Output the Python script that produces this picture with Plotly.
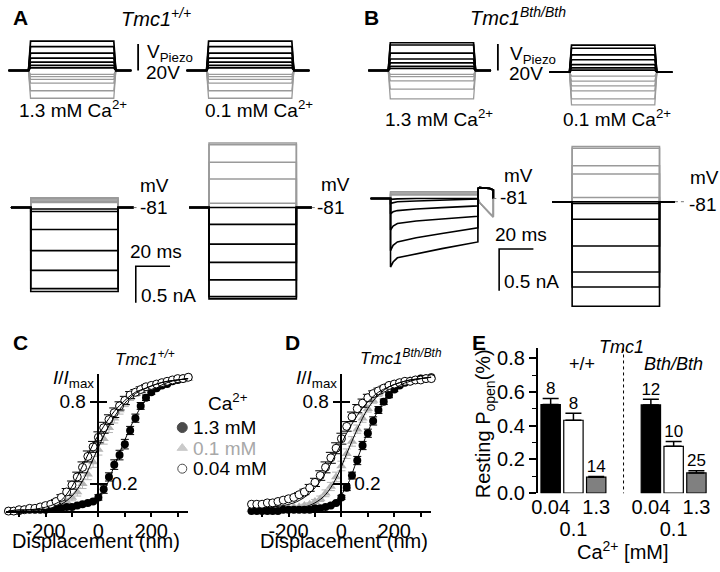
import plotly.graph_objects as go

W, H = 720, 572
FONT = "Liberation Sans, Arial, Helvetica, sans-serif"
GRAY = "#9a9a9a"

# ---------------- data ----------------
# timing of the mechanical step (ms)
T_PRE, T_ON, T_OFF, T_END, RAMP = -11.6, 0.0, 51.0, 60.0, 1.2
SCALE_T, SCALE_I, SCALE_V = 20, 0.5, 20   # scale bars: ms, nA, V

# piezo stimulus amplitudes (V)
stim_A_black = [22.2, 18.0, 13.1, 9.4, 6.4, 3.9, 2.0]
stim_A_gray = [-3.0, -4.7, -6.7, -9.6, -15.3, -21.0]
stim_B13_black = [21.0, 19.3, 13.1, 8.7, 5.7, 3.2, 1.5]
stim_B13_gray = [-3.0, -4.7, -7.9, -14.1, -21.5]
stim_B01_black = [20.5, 18.1, 13.1, 9.4, 5.7, 3.3, 1.5]
stim_B01_gray = [-3.0, -6.7, -10.4, -14.1, -20.2, -24.7]

# transducer currents (nA) during the step
cur_A13_black = [-0.02, -0.054, -0.30, -0.59, -0.86, -1.11, -1.15]
cur_A13_gray = [0.071, 0.085, 0.103, 0.12, 0.134]
cur_A01_black = [-0.01, -0.23, -0.50, -0.75, -0.99, -1.22, -1.25]
cur_A01_gray = [0.058, 0.39, 0.62, 0.86, 0.885]
adapt_t = [0, 1.5, 4, 15, 30, 51]
cur_B13_black = [
    [-0.01, -0.01, -0.005, 0.0, 0.0, 0.0],
    [-0.059, -0.05, -0.04, -0.03, -0.02, -0.007],
    [-0.183, -0.16, -0.145, -0.125, -0.11, -0.089],
    [-0.378, -0.33, -0.30, -0.27, -0.245, -0.214],
    [-0.624, -0.56, -0.52, -0.47, -0.42, -0.351],
    [-0.82, -0.76, -0.71, -0.66, -0.60, -0.52],
]
cur_B13_gray = [0.04, 0.05, 0.065, 0.08]
cur_B01_black = [0.0, -0.02, -0.21, -0.53, -0.84, -1.02, -1.25]
cur_B01_gray = [0.05, 0.33, 0.43, 0.64, 0.66]
# off-step tails (ms, nA)
tail_t = [51, 52, 58, 60]
tail_B13_black = [0.12, 0.13, 0.12, 0.10]
tail_B13_gray = [0.0, -0.05, -0.18, -0.22]

# displacement-response relations (nm, I/Imax)
disp = [-340, -320, -300, -280, -260, -240, -220, -200, -180, -160, -140, -120,
        -100, -80, -60, -40, -20, 0, 20, 40, 60, 80, 100, 120, 140, 160, 180,
        200, 220, 240, 260, 280, 300, 320, 340]
C_13 = [0.00, 0.00, 0.00, 0.01, 0.01, 0.01, 0.01, 0.01, 0.02, 0.02, 0.02, 0.03,
        0.03, 0.04, 0.05, 0.06, 0.07, 0.10, 0.16, 0.25, 0.34, 0.41, 0.49, 0.59,
        0.68, 0.77, 0.83, 0.87, 0.90, 0.92, 0.93, 0.95, 0.96, 0.97, 0.98]
C_13_err = [0.005] * 16 + [0.01, 0.02, 0.03, 0.03, 0.035, 0.035, 0.035, 0.03, 0.03,
                           0.025, 0.02, 0.015, 0.01, 0.01, 0.008, 0.006, 0.005, 0.005, 0.005]
C_01 = [0.00, 0.00, 0.00, 0.01, 0.01, 0.01, 0.02, 0.02, 0.03, 0.04, 0.05, 0.07,
        0.10, 0.14, 0.20, 0.27, 0.36, 0.45, 0.53, 0.61, 0.68, 0.74, 0.79, 0.83,
        0.86, 0.88, 0.90, 0.91, 0.92, 0.93, 0.94, 0.95, 0.96, 0.96, 0.97]
C_01_err = [0.005] * 8 + [0.01, 0.01, 0.015, 0.02, 0.025, 0.03, 0.035, 0.04, 0.04, 0.04,
                          0.04, 0.035, 0.035, 0.03, 0.025, 0.02, 0.02, 0.015, 0.01, 0.01,
                          0.01, 0.008, 0.006, 0.005, 0.005, 0.005, 0.005]
C_004 = [0.00, 0.00, 0.01, 0.01, 0.02, 0.02, 0.03, 0.04, 0.05, 0.07, 0.10, 0.14,
         0.19, 0.25, 0.32, 0.40, 0.47, 0.54, 0.61, 0.67, 0.72, 0.77, 0.81, 0.85,
         0.87, 0.89, 0.91, 0.92, 0.93, 0.94, 0.95, 0.96, 0.97, 0.97, 0.98]
C_004_err = [0.005] * 8 + [0.01, 0.015, 0.02, 0.025, 0.03, 0.035, 0.04, 0.04, 0.04, 0.04,
                           0.04, 0.035, 0.035, 0.03, 0.03, 0.025, 0.02, 0.02, 0.015, 0.01,
                           0.01, 0.008, 0.006, 0.005, 0.005, 0.005, 0.005]
D_13 = [0.00, 0.00, 0.00, 0.00, 0.00, 0.00, 0.01, 0.01, 0.01, 0.01, 0.01, 0.01,
        0.02, 0.02, 0.03, 0.04, 0.06, 0.10, 0.17, 0.26, 0.37, 0.48, 0.57, 0.66,
        0.74, 0.80, 0.85, 0.89, 0.92, 0.94, 0.95, 0.96, 0.97, 0.97, 0.98]
D_13_err = [0.005] * 16 + [0.01, 0.015, 0.02, 0.025, 0.03, 0.03, 0.03, 0.03, 0.025,
                           0.02, 0.02, 0.015, 0.01, 0.01, 0.008, 0.006, 0.005, 0.005, 0.005]
D_01 = [0.01, 0.01, 0.01, 0.01, 0.01, 0.02, 0.02, 0.02, 0.03, 0.03, 0.04, 0.05,
        0.07, 0.09, 0.13, 0.18, 0.25, 0.33, 0.42, 0.51, 0.60, 0.68, 0.75, 0.81,
        0.86, 0.89, 0.91, 0.93, 0.94, 0.95, 0.96, 0.96, 0.97, 0.97, 0.98]
D_01_err = [0.005] * 10 + [0.01, 0.01, 0.015, 0.02, 0.025, 0.03, 0.035, 0.035, 0.035, 0.035,
                           0.03, 0.03, 0.025, 0.02, 0.02, 0.015, 0.01, 0.01, 0.008, 0.006,
                           0.005, 0.005, 0.005, 0.005, 0.005]
D_004 = [0.05, 0.05, 0.05, 0.06, 0.06, 0.07, 0.08, 0.09, 0.10, 0.12, 0.14, 0.17,
         0.21, 0.26, 0.32, 0.39, 0.46, 0.53, 0.62, 0.69, 0.75, 0.79, 0.83, 0.86,
         0.88, 0.90, 0.92, 0.93, 0.94, 0.95, 0.95, 0.96, 0.96, 0.97, 0.97]
D_004_err = [0.005] * 8 + [0.01, 0.015, 0.02, 0.025, 0.03, 0.035, 0.04, 0.04, 0.04, 0.04,
                           0.035, 0.035, 0.03, 0.03, 0.025, 0.02, 0.02, 0.015, 0.01, 0.01,
                           0.01, 0.008, 0.006, 0.005, 0.005, 0.005, 0.005]
# fitted curves
fit_x = [-340, -300, -260, -220, -180, -140, -100, -60, -20, 20, 60, 100, 140, 180,
         220, 260, 300, 340]
fitC_13 = [0.00, 0.00, 0.00, 0.01, 0.01, 0.02, 0.03, 0.05, 0.08, 0.15, 0.33, 0.52,
           0.69, 0.82, 0.90, 0.94, 0.96, 0.97]
fitC_01 = [0.00, 0.00, 0.01, 0.01, 0.02, 0.05, 0.11, 0.22, 0.38, 0.55, 0.69, 0.79,
           0.86, 0.90, 0.93, 0.95, 0.96, 0.97]
fitC_004 = [0.00, 0.01, 0.01, 0.02, 0.04, 0.08, 0.18, 0.33, 0.49, 0.62, 0.73, 0.81,
            0.87, 0.90, 0.93, 0.95, 0.96, 0.97]
fitD_13 = [0.00, 0.00, 0.00, 0.01, 0.01, 0.01, 0.02, 0.04, 0.08, 0.18, 0.38, 0.58,
           0.74, 0.85, 0.92, 0.95, 0.97, 0.98]
fitD_01 = [0.00, 0.00, 0.01, 0.01, 0.02, 0.03, 0.06, 0.12, 0.24, 0.42, 0.60, 0.75,
           0.85, 0.91, 0.94, 0.96, 0.97, 0.98]
fitD_004 = [0.01, 0.02, 0.03, 0.04, 0.06, 0.10, 0.17, 0.28, 0.42, 0.57, 0.70, 0.80,
            0.87, 0.91, 0.94, 0.96, 0.97, 0.98]
legend_names = ["1.3 mM", "0.1 mM", "0.04 mM"]

# resting open probability
ca_labels = ["0.04", "0.1", "1.3"]
genotypes = ["+/+", "Bth/Bth"]
popen = [0.526, 0.433, 0.095, 0.524, 0.278, 0.120]
popen_err = [0.036, 0.042, 0.004, 0.034, 0.029, 0.013]
n_cells = [8, 8, 14, 12, 10, 25]

# ---------------- helpers ----------------
fig = go.Figure()
axes = {}
counter = [0]


def make_axes(x0px, xppu, xr, y0px, yppu, yr, xkw=None, ykw=None):
    """axis pair whose data value 0 sits at pixel (x0px, y0px)"""
    counter[0] += 1
    i = counter[0]
    s = "" if i == 1 else str(i)
    xd = [max(0, (x0px + xr[0] * xppu) / W), min(1, (x0px + xr[1] * xppu) / W)]
    yd = [max(0, 1 - (y0px - yr[0] * yppu) / H), min(1, 1 - (y0px - yr[1] * yppu) / H)]
    xa = dict(domain=xd, range=xr, anchor="y" + s, visible=False, showgrid=False,
              zeroline=False)
    ya = dict(domain=yd, range=yr, anchor="x" + s, visible=False, showgrid=False,
              zeroline=False)
    if xkw:
        xa.update(xkw)
    if ykw:
        ya.update(ykw)
    axes["xaxis" + s] = xa
    axes["yaxis" + s] = ya
    return "x" + s, "y" + s


def line(xs, ys, xa, ya, color="black", width=1.3, dash=None):
    fig.add_trace(go.Scatter(x=xs, y=ys, xaxis=xa, yaxis=ya, mode="lines",
                             line=dict(color=color, width=width, dash=dash),
                             hoverinfo="skip", showlegend=False))


def stim_xy(levels):
    xs, ys = [], []
    for v in levels:
        xs += [T_PRE, T_ON, T_ON + RAMP, T_OFF - RAMP, T_OFF, T_END, None]
        ys += [0, 0, v, v, 0, 0, None]
    return xs, ys


def step_xy(levels, tail=None):
    xs, ys = [], []
    for v in levels:
        if isinstance(v, list):
            during_t, during_v = adapt_t, v
        else:
            during_t, during_v = [T_ON, T_OFF], [v, v]
        xs += [T_PRE, T_ON] + during_t
        ys += [0, 0] + during_v
        if tail is None:
            xs += [T_OFF, T_END]
            ys += [0, 0]
        else:
            xs += tail_t + [T_END]
            ys += tail + [0]
        xs.append(None)
        ys.append(None)
    return xs, ys


annotations = []


def ann(text, xpx, ypx, size=19, xanchor="center", color="black", **kw):
    annotations.append(dict(text=text, x=xpx / W, y=1 - ypx / H, xref="paper",
                            yref="paper", showarrow=False, xanchor=xanchor,
                            yanchor="middle", font=dict(size=size, color=color,
                                                        family=FONT), **kw))


PX_MS = 1.73

# ---------------- panels A / B : stimuli ----------------
def stim_panel(x0, y0, blacks, grays, bar=False):
    xa, ya = make_axes(x0, PX_MS, [-13, 80], y0, 1.35, [-28, 28])
    gx, gy = stim_xy(grays)
    line(gx, gy, xa, ya, color=GRAY, width=1.3)
    bx, by = stim_xy(blacks)
    line(bx, by, xa, ya, color="black", width=1.7)
    if bar:
        bt = 64.0
        line([bt, bt], [0, SCALE_V], xa, ya, width=1.8)


stim_panel(22.7, 71, stim_A_black, stim_A_gray, bar=True)
stim_panel(202.5, 71, stim_A_black, stim_A_gray)
stim_panel(386, 71, stim_B13_black, stim_B13_gray, bar=True)
stim_panel(569, 72.7, stim_B01_black, stim_B01_gray)


# ---------------- panels A / B : currents ----------------
def current_panel(x0, y0, ppu, xr, yr, blacks, grays, tail_b=None, tail_g=None,
                  dash_to=None, bar=None):
    xa, ya = make_axes(x0, PX_MS, xr, y0, ppu, yr)
    gx, gy = step_xy(grays, tail_g)
    line(gx, gy, xa, ya, color=GRAY, width=1.5)
    bx, by = step_xy(blacks, tail_b)
    line(bx, by, xa, ya, color="black", width=1.6)
    if dash_to:
        line([T_END, dash_to], [0, 0], xa, ya, color="#777777", width=1, dash="dot")
    if bar:
        bt, bi = bar
        line([bt + SCALE_T, bt, bt], [bi, bi, bi - SCALE_I], xa, ya, width=1.6)


current_panel(25, 211, 74.6, [-14, 90], [-1.5, 1.0], cur_A13_black, cur_A13_gray,
              dash_to=63.0, bar=(61.3, -0.804))
current_panel(205, 211, 74.6, [-14, 80], [-1.4, 1.1], cur_A01_black, cur_A01_gray,
              dash_to=62.0)
current_panel(388.3, 201.7, 85.4, [-14, 90], [-1.2, 0.6], cur_B13_black, cur_B13_gray,
              tail_b=tail_B13_black, tail_g=tail_B13_gray, dash_to=63.5,
              bar=(63.4, -0.604))
current_panel(571.7, 205, 85.4, [-14, 80], [-1.4, 0.9], cur_B01_black, cur_B01_gray,
              dash_to=67.0)

# ---------------- panels C / D ----------------
NM_PX, I_PX = 0.267, 139.5
tick_font = dict(size=20, family=FONT, color="black")


def dummy(xa, ya):
    fig.add_trace(go.Scatter(x=[None], y=[None], xaxis=xa, yaxis=ya, mode="markers",
                             showlegend=False, hoverinfo="skip"))


def iv_panel(x0, y0, s13, e13, s01, e01, s004, e004, f13, f01, f004, legend=False):
    xkw = dict(visible=True, showline=True, linewidth=1.5, linecolor="black",
               ticks="outside", ticklen=4, tickwidth=1.5, tickcolor="black",
               tickvals=[-300, -200, -100, 0, 100, 200, 300],
               ticktext=["", "-200", "", "0", "", "200", ""], tickfont=tick_font,
               tickangle=0, ticklabelstandoff=-3)
    pos = x0 / W
    ykw = dict(visible=True, showline=True, linewidth=1.5, linecolor="black",
               anchor="free", position=pos, ticks="outside", ticklen=8, tickwidth=1.5,
               tickcolor="black", tickvals=[0.2, 0.8], ticktext=["", "0.8"],
               tickfont=dict(size=19, family=FONT, color="black"))
    xa, ya = make_axes(x0, NM_PX, [-349, 340], y0, I_PX, [0, 1.0], xkw, ykw)
    # right-hand ticks of the same axis
    counter[0] += 1
    s2 = str(counter[0])
    axes["yaxis" + s2] = dict(overlaying=ya, side="right", anchor="free", position=pos,
                              range=[0, 1.0], showline=False, showgrid=False,
                              zeroline=False, ticks="outside", ticklen=8, tickwidth=1.5,
                              tickcolor="black", tickvals=[0.2, 0.8],
                              ticktext=["0.2", ""],
                              tickfont=dict(size=19, family=FONT, color="black"))
    dummy(xa, "y" + s2)
    common = dict(xaxis=xa, yaxis=ya, mode="markers", cliponaxis=False,
                  hoverinfo="skip", showlegend=False)
    fig.add_trace(go.Scatter(x=disp, y=s01, marker=dict(symbol="triangle-up", size=9,
                                                          color="#b5b5b5"),
                             error_y=dict(type="data", array=e01, color="#b5b5b5",
                                          thickness=1, width=4), **common))
    fig.add_trace(go.Scatter(x=disp, y=s13, marker=dict(symbol="circle", size=8,
                                                          color="black"),
                             error_y=dict(type="data", array=e13, color="black",
                                          thickness=1, width=4), **common))
    fig.add_trace(go.Scatter(x=disp, y=s004, marker=dict(symbol="circle", size=8,
                                                           color="white",
                                                           line=dict(color="black",
                                                                     width=1)),
                             error_y=dict(type="data", array=e004, color="black",
                                          thickness=1, width=5), **common))
    for f in (f13, f01, f004):
        fig.add_trace(go.Scatter(x=fit_x, y=f, xaxis=xa, yaxis=ya, mode="lines",
                                 line=dict(color="black", width=1, shape="spline"),
                                 hoverinfo="skip", showlegend=False))
    if legend:
        lx = (178 - x0) / NM_PX
        ly = [(y0 - p) / I_PX for p in (435.7, 456.7, 477.7)]
        fig.add_trace(go.Scatter(x=[lx] * 3, y=ly, xaxis=xa, yaxis=ya, mode="markers",
                                 cliponaxis=False, hoverinfo="skip", showlegend=False,
                                 marker=dict(symbol=["circle", "triangle-up", "circle"],
                                             size=[10, 9, 9],
                                             color=["black", "#b5b5b5", "white"],
                                             line=dict(color=["black", "#b5b5b5",
                                                              "black"], width=1))))
        ann("Ca<sup>2+</sup>", 224, 410, 19)
        for name, p, col in zip(legend_names, (435.7, 456.7, 477.7),
                                ("black", "#a8a8a8", "black")):
            ann(name, 187, p, 19, xanchor="left", color=col)


iv_panel(93.3, 521, C_13, C_13_err, C_01, C_01_err, C_004, C_004_err,
         fitC_13, fitC_01, fitC_004, legend=True)
iv_panel(338.7, 521, D_13, D_13_err, D_01, D_01_err, D_004, D_004_err,
         fitD_13, fitD_01, fitD_004)

# ---------------- panel E ----------------
GROUP_GAP = 2.4
bar_x = [g * (len(ca_labels) + GROUP_GAP - 1) + i for g in range(len(genotypes))
         for i in range(len(ca_labels))]
row1 = [k for k in range(len(bar_x)) if k % len(ca_labels) != 1]
row2 = [k for k in range(len(bar_x)) if k % len(ca_labels) == 1]
lab_all = ca_labels * len(genotypes)
E_XR = [-0.57, 6.95]
xkw = dict(visible=True, showline=False, ticks="", tickvals=[bar_x[k] for k in row1],
           ticktext=[lab_all[k] for k in row1], tickfont=tick_font, tickangle=0)
ykw = dict(visible=True, showline=True, linewidth=1.5, linecolor="black",
           ticks="outside", ticklen=7, tickwidth=1.5, tickcolor="black", dtick=0.2,
           tick0=0, tickformat=".1f", tickfont=tick_font,
           minor=dict(ticks="outside", ticklen=4, dtick=0.1, tickcolor="black",
                      tickwidth=1.2))
xe, ye = make_axes(550, 23, E_XR, 502.7, 172, [0, 0.86], xkw, ykw)
# second row of category labels
counter[0] += 1
xe2 = "x" + str(counter[0])
axes["xaxis" + str(counter[0])] = dict(overlaying=xe, anchor=ye, range=E_XR,
                                       showline=False, showgrid=False, zeroline=False,
                                       ticks="", tickvals=[bar_x[k] for k in row2],
                                       ticktext=[lab_all[k] for k in row2],
                                       tickfont=tick_font, tickangle=0,
                                       ticklabelstandoff=22)
dummy(xe2, ye)
fig.add_trace(go.Bar(x=bar_x, y=popen, xaxis=xe, yaxis=ye, width=0.85,
                     marker=dict(color=["black", "white", "#808080"] * 2,
                                 line=dict(color="black", width=1.2)),
                     error_y=dict(type="data", symmetric=False, array=popen_err,
                                  arrayminus=[0] * len(popen), color="black",
                                  thickness=1.5, width=8),
                     hoverinfo="skip", showlegend=False))
fig.add_trace(go.Scatter(x=bar_x, y=[v + e for v, e in zip(popen, popen_err)],
                         xaxis=xe, yaxis=ye, mode="text", text=[str(n) for n in n_cells],
                         textposition="top center", cliponaxis=False,
                         textfont=dict(size=17, family=FONT, color="black"),
                         hoverinfo="skip", showlegend=False))
mid = (bar_x[2] + bar_x[3]) / 2
shapes = [dict(type="line", xref=xe, yref=ye, x0=mid, x1=mid, y0=-0.085, y1=0.86,
               line=dict(color="black", width=1, dash="dot"))]

# ---------------- text ----------------
for lab, xp, yp in (("A", 15, 17), ("B", 369, 17), ("C", 15, 349), ("D", 289, 349),
                    ("E", 478, 349)):
    ann("<b>" + lab + "</b>", xp, yp, 21)
ann("<i>Tmc1</i><sup><i>+/+</i></sup>", 151, 17, 20)
ann("<i>Tmc1</i><sup><i>Bth/Bth</i></sup>", 517, 16, 20)
ann("V<sub>Piezo</sub>", 140, 53, 19, xanchor="left")
ann("20V", 158.5, 73, 19)
ann("V<sub>Piezo</sub>", 507, 55, 19, xanchor="left")
ann("20V", 525.5, 74, 19)
ann("1.3 mM Ca<sup>2+</sup>", 68, 110, 19)
ann("0.1 mM Ca<sup>2+</sup>", 255, 110, 19)
ann("1.3 mM Ca<sup>2+</sup>", 437, 120, 19)
ann("0.1 mM Ca<sup>2+</sup>", 617, 120, 19)
for xp, yp in ((133, 188), (316, 187), (501, 178), (689, 180)):
    ann("mV", xp, yp, 19, xanchor="left")
for xp, yp in ((133, 211), (312, 211), (497, 201), (688, 208)):
    ann("-81", xp, yp, 19, xanchor="left")
ann("20 ms", 151, 256, 19)
ann("0.5 nA", 164, 301, 19)
ann("20 ms", 520, 239, 19)
ann("0.5 nA", 531, 286, 19)
ann("<i>Tmc1</i><sup><i>+/+</i></sup>", 140, 365, 17)
ann("<i>Tmc1</i><sup><i>Bth/Bth</i></sup>", 399, 364, 17)
ann("<i>I</i>/<i>I</i><sub>max</sub>", 68, 386, 19)
ann("<i>I</i>/<i>I</i><sub>max</sub>", 314, 386, 19)
ann("Displacement (nm)", 91, 552, 20)
ann("Displacement (nm)", 341, 552, 20)
ann("<i>Tmc1</i>", 622, 353, 18)
ann(genotypes[0], 582, 371, 18)
ann("<i>" + genotypes[1] + "</i>", 674, 371, 18)
ann("Ca<sup>2+</sup> [mM]", 623, 561, 20)
ann("Resting P<sub>open</sub>(%)", 484, 432, 20, textangle=-90)

fig.update_layout(width=W, height=H, margin=dict(l=0, r=0, t=0, b=0),
                  paper_bgcolor="white", plot_bgcolor="white", showlegend=False,
                  font=dict(family=FONT, color="black"), annotations=annotations,
                  shapes=shapes, **axes)
fig.write_html("out.html", config={"displayModeBar": False},
               post_script="document.body.style.margin='0';"
                           "document.body.style.padding='0';")
